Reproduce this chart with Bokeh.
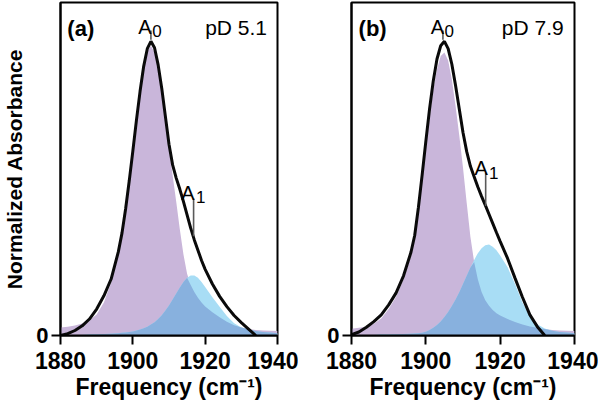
import numpy as np
from bokeh.plotting import figure
from bokeh.models import ColumnDataSource, Range1d, FixedTicker, Label
from bokeh.layouts import row
from bokeh.embed import file_html
from bokeh.resources import INLINE

nan = float("nan")

# ---------------- data ----------------
freq = [1880, 1882, 1884, 1886, 1888, 1890, 1892, 1894, 1896,
        1897, 1898, 1899, 1900, 1901, 1902, 1903, 1904, 1905, 1906, 1907, 1908,
        1909, 1910, 1911, 1912, 1913, 1914, 1915, 1916, 1917, 1918, 1919, 1920,
        1922, 1924, 1926, 1928, 1930, 1932, 1934, 1936, 1938, 1940]

# panel (a) pD 5.1
a_A0 = [0.027, 0.030, 0.034, 0.041, 0.052, 0.071, 0.112, 0.180, 0.280,
        0.344, 0.427, 0.522, 0.624, 0.728, 0.826, 0.909, 0.965, 0.985, 0.962, 0.910, 0.835,
        0.735, 0.635, 0.545, 0.455, 0.360, 0.275, 0.210, 0.172, 0.148, 0.128, 0.112, 0.099,
        0.079, 0.062, 0.047, 0.035, 0.027, 0.022, 0.019, 0.017, 0.016, 0.015]
a_A1 = [0.001, 0.001, 0.002, 0.002, 0.003, 0.004, 0.005, 0.006, 0.008,
        0.009, 0.010, 0.012, 0.014, 0.017, 0.020, 0.025, 0.030, 0.037, 0.045, 0.056, 0.069,
        0.085, 0.102, 0.122, 0.143, 0.163, 0.182, 0.196, 0.204, 0.204, 0.196, 0.182, 0.165,
        0.130, 0.098, 0.066, 0.042, 0.027, 0.020, 0.015, 0.012, 0.010, 0.008]
a_total = [0.0, 0.006, 0.017, 0.033, 0.056, 0.090, 0.135, 0.192, 0.285,
           0.348, 0.430, 0.525, 0.627, 0.732, 0.830, 0.915, 0.975, 1.000, 0.978, 0.920, 0.840,
           0.745, 0.650, 0.580, 0.535, 0.497, 0.455, 0.410, 0.365, 0.325, 0.290, 0.255, 0.225,
           0.175, 0.133, 0.098, 0.068, 0.044, 0.022, 0.0, nan, nan, nan]

# panel (b) pD 7.9
b_A0 = [0.023, 0.026, 0.030, 0.040, 0.058, 0.090, 0.132, 0.190, 0.270,
        0.330, 0.420, 0.525, 0.635, 0.740, 0.835, 0.905, 0.950, 0.962, 0.935, 0.870, 0.780,
        0.680, 0.570, 0.450, 0.335, 0.250, 0.190, 0.148, 0.120, 0.101, 0.087, 0.076, 0.068,
        0.056, 0.046, 0.037, 0.031, 0.026, 0.022, 0.019, 0.017, 0.016, 0.015]
b_A1 = [0.001, 0.001, 0.002, 0.002, 0.003, 0.003, 0.004, 0.005, 0.006,
        0.007, 0.008, 0.009, 0.013, 0.019, 0.026, 0.036, 0.048, 0.063, 0.080, 0.100, 0.122,
        0.147, 0.175, 0.203, 0.231, 0.257, 0.280, 0.297, 0.307, 0.309, 0.302, 0.290, 0.272,
        0.232, 0.175, 0.112, 0.066, 0.038, 0.024, 0.016, 0.012, 0.010, 0.008]
b_total = [0.003, 0.012, 0.028, 0.047, 0.070, 0.104, 0.145, 0.203, 0.283,
           0.340, 0.435, 0.545, 0.660, 0.770, 0.865, 0.940, 0.985, 1.000, 0.975, 0.922, 0.850,
           0.770, 0.690, 0.625, 0.575, 0.540, 0.505, 0.473, 0.443, 0.412, 0.381, 0.350, 0.320,
           0.262, 0.195, 0.130, 0.070, 0.030, 0.0, nan, nan, nan, nan]

x_ticks = [1880, 1900, 1920, 1940]
y_ticks = [0]

panel_tags = ["(a)", "(b)"]
panel_conditions = ["pD 5.1", "pD 7.9"]
x_title = "Frequency (cm\u207b\u00b9)"
y_title = "Normalized Absorbance"

# peak annotations: (label, subscript, label x, label baseline y, sub x, sub y, marker x, marker y0, marker y1)
a_peaks = [("A", "0", 1903.35, 1.048, 1906.7, 1.035, 1905.0, 1.005, 1.037),
           ("A", "1", 1915.2, 0.486, 1918.8, 0.470, 1916.8, 0.337, 0.466)]
b_peaks = [("A", "0", 1903.1, 1.048, 1906.3, 1.035, 1904.6, 1.005, 1.037),
           ("A", "1", 1914.9, 0.570, 1918.3, 0.554, 1916.1, 0.440, 0.552)]

# ---------------- styling ----------------
FONT = "Liberation Sans"
PURPLE = "#c9b6da"
CYAN = "#a8ddf5"
DARK = "#88b1de"
LINE = "#0a0a0a"
MARK = "#5a5a5a"


def panel(A0, A1, total, tag, cond, peaks, width, left, right, show_ylabel):
    p = figure(width=width, height=402, output_backend="svg", toolbar_location=None,
               x_range=Range1d(1880, 1940), y_range=Range1d(0, 1.132),
               min_border_left=left, min_border_right=right,
               min_border_top=2, min_border_bottom=65)
    p.grid.visible = False
    p.background_fill_color = "white"
    p.border_fill_color = "white"
    p.outline_line_color = "black"
    p.outline_line_width = 2

    A0a = np.array(A0)
    A1a = np.array(A1)
    src = ColumnDataSource(dict(f=freq, A0=A0, A1=A1,
                                both=np.minimum(A0a, A1a), total=total))
    p.varea(x="f", y1=0, y2="A0", source=src, fill_color=PURPLE)
    p.varea(x="f", y1=0, y2="A1", source=src, fill_color=CYAN)
    p.varea(x="f", y1=0, y2="both", source=src, fill_color=DARK)
    p.line(x="f", y="total", source=src, line_color=LINE, line_width=3)

    for (t, s, tx, ty, sx, sy, mx, my0, my1) in peaks:
        p.segment(x0=[mx], y0=[my0], x1=[mx], y1=[my1], line_color=MARK, line_width=1.6)
        p.add_layout(Label(x=tx, y=ty, text=t, text_align="center", text_baseline="alphabetic",
                           text_font=FONT, text_font_size="20px", text_color="black"))
        p.add_layout(Label(x=sx, y=sy, text=s, text_align="center", text_baseline="alphabetic",
                           text_font=FONT, text_font_size="17px", text_color="black"))

    p.add_layout(Label(x=1881.9, y=1.044, text=tag, text_align="left", text_baseline="alphabetic",
                       text_font=FONT, text_font_style="bold", text_font_size="22px",
                       text_color="black"))
    p.add_layout(Label(x=1937.1, y=1.048, text=cond, text_align="right", text_baseline="alphabetic",
                       text_font=FONT, text_font_size="21px", text_color="black"))

    xa = p.xaxis[0]
    xa.ticker = FixedTicker(ticks=x_ticks)
    xa.axis_label = x_title
    xa.axis_label_text_font = FONT
    xa.axis_label_text_font_style = "bold"
    xa.axis_label_text_font_size = "23px"
    xa.axis_label_text_color = "black"
    xa.axis_label_standoff = 2
    xa.major_label_text_font = FONT
    xa.major_label_text_font_style = "bold"
    xa.major_label_text_font_size = "23px"
    xa.major_label_standoff = 7

    ya = p.yaxis[0]
    ya.ticker = FixedTicker(ticks=y_ticks)
    ya.major_label_text_font = FONT
    ya.major_label_text_font_style = "bold"
    ya.major_label_text_font_size = "22px"
    ya.major_label_standoff = 3
    if show_ylabel:
        ya.axis_label = y_title
        ya.axis_label_text_font = FONT
        ya.axis_label_text_font_style = "bold"
        ya.axis_label_text_font_size = "21px"
        ya.axis_label_text_color = "black"
        ya.axis_label_standoff = 7

    for ax in (xa, ya):
        ax.axis_line_width = 2
        ax.axis_line_color = "black"
        ax.major_tick_line_width = 2
        ax.major_tick_line_color = "black"
        ax.major_tick_out = 9
        ax.major_tick_in = 0
        ax.minor_tick_line_color = None
        ax.major_label_text_color = "black"
    return p


pa = panel(a_A0, a_A1, a_total, panel_tags[0], panel_conditions[0], a_peaks, 298, 54, 21, True)
pb = panel(b_A0, b_A1, b_total, panel_tags[1], panel_conditions[1], b_peaks, 300, 53, 24, False)

layout = row(pa, pb)
open("out.html", "w").write(file_html(layout, INLINE))
